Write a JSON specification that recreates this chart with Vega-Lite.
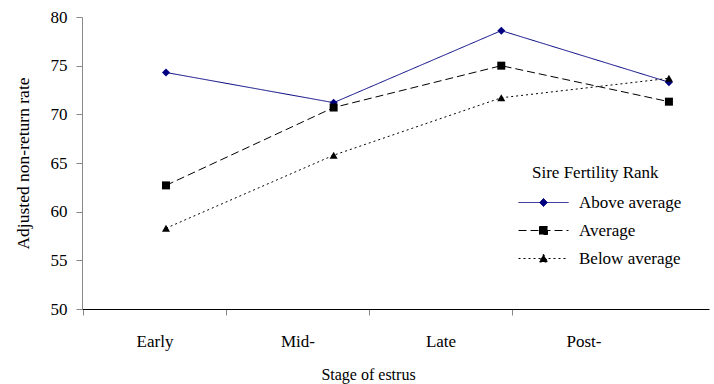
{
  "$schema": "https://vega.github.io/schema/vega-lite/v6.json",
  "width": 627,
  "height": 292,
  "autosize": {"type": "none"},
  "padding": {"left": 82, "top": 17, "right": 5, "bottom": 75},
  "background": "white",
  "data": {
    "values": [
      {"stage": "Early", "rank": "Above average", "rate": 74.3},
      {"stage": "Mid-", "rank": "Above average", "rate": 71.2},
      {"stage": "Late", "rank": "Above average", "rate": 78.6},
      {"stage": "Post-", "rank": "Above average", "rate": 73.3},
      {"stage": "Early", "rank": "Average", "rate": 62.7},
      {"stage": "Mid-", "rank": "Average", "rate": 70.7},
      {"stage": "Late", "rank": "Average", "rate": 75.0},
      {"stage": "Post-", "rank": "Average", "rate": 71.3},
      {"stage": "Early", "rank": "Below average", "rate": 58.3},
      {"stage": "Mid-", "rank": "Below average", "rate": 65.8},
      {"stage": "Late", "rank": "Below average", "rate": 71.7},
      {"stage": "Post-", "rank": "Below average", "rate": 73.7}
    ]
  },
  "layer": [
    {
      "mark": {"type": "bar", "opacity": 0},
      "encoding": {
        "x": {
          "field": "stage",
          "type": "ordinal",
          "sort": ["Early", "Mid-", "Late", "Post-"],
          "scale": {"type": "band", "paddingInner": 0, "paddingOuter": 0.1923, "align": 0.027},
          "axis": {
            "title": "Stage of estrus",
            "titleX": 286,
            "titleY": 70,
            "titleBaseline": "alphabetic",
            "titleFontSize": 16,
            "labelFontSize": 17,
            "labelPadding": 18,
            "labelAngle": 0,
            "tickSize": 6,
            "tickColor": "#888888",
            "domainColor": "#000000",
            "bandPosition": 0,
            "grid": false
          }
        }
      }
    },
    {
      "layer": [
        {
          "mark": {"type": "line", "strokeWidth": 1},
          "encoding": {
            "x": {
              "field": "stage",
              "type": "ordinal",
              "sort": ["Early", "Mid-", "Late", "Post-"],
              "scale": {"type": "point", "padding": 0.37, "align": 0.677},
              "axis": null
            },
            "y": {
              "field": "rate",
              "type": "quantitative",
              "scale": {"domain": [50, 80], "nice": false, "zero": false},
              "axis": {
                "title": "Adjusted non-return rate",
                "values": [50, 55, 60, 65, 70, 75, 80],
                "labelFontSize": 17,
                "labelPadding": 9,
                "tickSize": 6,
                "tickColor": "#888888",
                "domainColor": "#888888",
                "titleFontSize": 17.5,
                "titlePadding": 18,
                "grid": false
              }
            },
            "color": {
              "field": "rank",
              "type": "nominal",
              "scale": {"domain": ["Above average", "Average", "Below average"], "range": ["#000080", "#000000", "#000000"]},
              "legend": null
            },
            "strokeDash": {
              "field": "rank",
              "type": "nominal",
              "scale": {"domain": ["Above average", "Average", "Below average"], "range": [[1, 0], [8, 4], [2, 3]]},
              "legend": null
            }
          }
        },
        {
          "mark": {"type": "point", "filled": true, "opacity": 1, "size": 64},
          "encoding": {
            "x": {
              "field": "stage",
              "type": "ordinal",
              "sort": ["Early", "Mid-", "Late", "Post-"],
              "scale": {"type": "point", "padding": 0.37, "align": 0.677},
              "axis": null
            },
            "y": {"field": "rate", "type": "quantitative", "scale": {"domain": [50, 80], "nice": false, "zero": false}},
            "color": {
              "field": "rank",
              "type": "nominal",
              "scale": {"domain": ["Above average", "Average", "Below average"], "range": ["#000080", "#000000", "#000000"]},
              "legend": null
            },
            "shape": {
              "field": "rank",
              "type": "nominal",
              "scale": {"domain": ["Above average", "Average", "Below average"], "range": ["diamond", "square", "triangle-up"]},
              "legend": null
            }
          }
        },
        {
          "mark": {"type": "point", "filled": true, "opacity": 0},
          "encoding": {
            "x": {
              "field": "stage",
              "type": "ordinal",
              "sort": ["Early", "Mid-", "Late", "Post-"],
              "scale": {"type": "point", "padding": 0.37, "align": 0.677},
              "axis": null
            },
            "y": {"field": "rate", "type": "quantitative", "scale": {"domain": [50, 80], "nice": false, "zero": false}},
            "fill": {
              "field": "rank",
              "type": "nominal",
              "title": "Sire Fertility Rank",
              "scale": {"domain": ["Above average", "Average", "Below average"], "range": ["#000080", "#000000", "#000000"]}
            },
            "stroke": {
              "field": "rank",
              "type": "nominal",
              "title": "Sire Fertility Rank",
              "scale": {"domain": ["Above average", "Average", "Below average"], "range": ["#000080", "#000000", "#000000"]}
            },
            "shape": {
              "field": "rank",
              "type": "nominal",
              "title": "Sire Fertility Rank",
              "scale": {
                "domain": ["Above average", "Average", "Below average"],
                "range": ["M-5,0H5M0,-0.8L0.8,0L0,0.8L-0.8,0Z", "M-5,0H5M-0.8,-0.8H0.8V0.8H-0.8Z", "M-5,0H5M0,-0.85L0.85,0.7H-0.85Z"]
              }
            },
            "strokeDash": {
              "field": "rank",
              "type": "nominal",
              "title": "Sire Fertility Rank",
              "scale": {"domain": ["Above average", "Average", "Below average"], "range": [[1, 0], [8, 4], [2, 3]]}
            }
          }
        }
      ],
      "resolve": {
        "scale": {"shape": "independent", "strokeDash": "independent", "fill": "independent", "stroke": "independent", "color": "independent"}
      }
    }
  ],
  "resolve": {"scale": {"x": "independent"}},
  "config": {
    "font": "Liberation Serif",
    "view": {"stroke": null},
    "axis": {
      "labelColor": "#000000",
      "titleColor": "#000000",
      "titleFontWeight": "normal",
      "labelFont": "Liberation Serif",
      "titleFont": "Liberation Serif",
      "domainWidth": 1,
      "tickWidth": 1
    },
    "legend": {
      "orient": "none",
      "legendX": 450,
      "legendY": 148,
      "padding": 0,
      "titleFont": "Liberation Serif",
      "labelFont": "Liberation Serif",
      "titleFontSize": 17,
      "titleFontWeight": "normal",
      "titleColor": "#000000",
      "labelFontSize": 17,
      "labelColor": "#000000",
      "symbolSize": 100,
      "symbolStrokeWidth": 1,
      "symbolOffset": 3,
      "labelOffset": 27,
      "rowPadding": 10,
      "titlePadding": 12,
      "symbolOpacity": 1
    }
  }
}
